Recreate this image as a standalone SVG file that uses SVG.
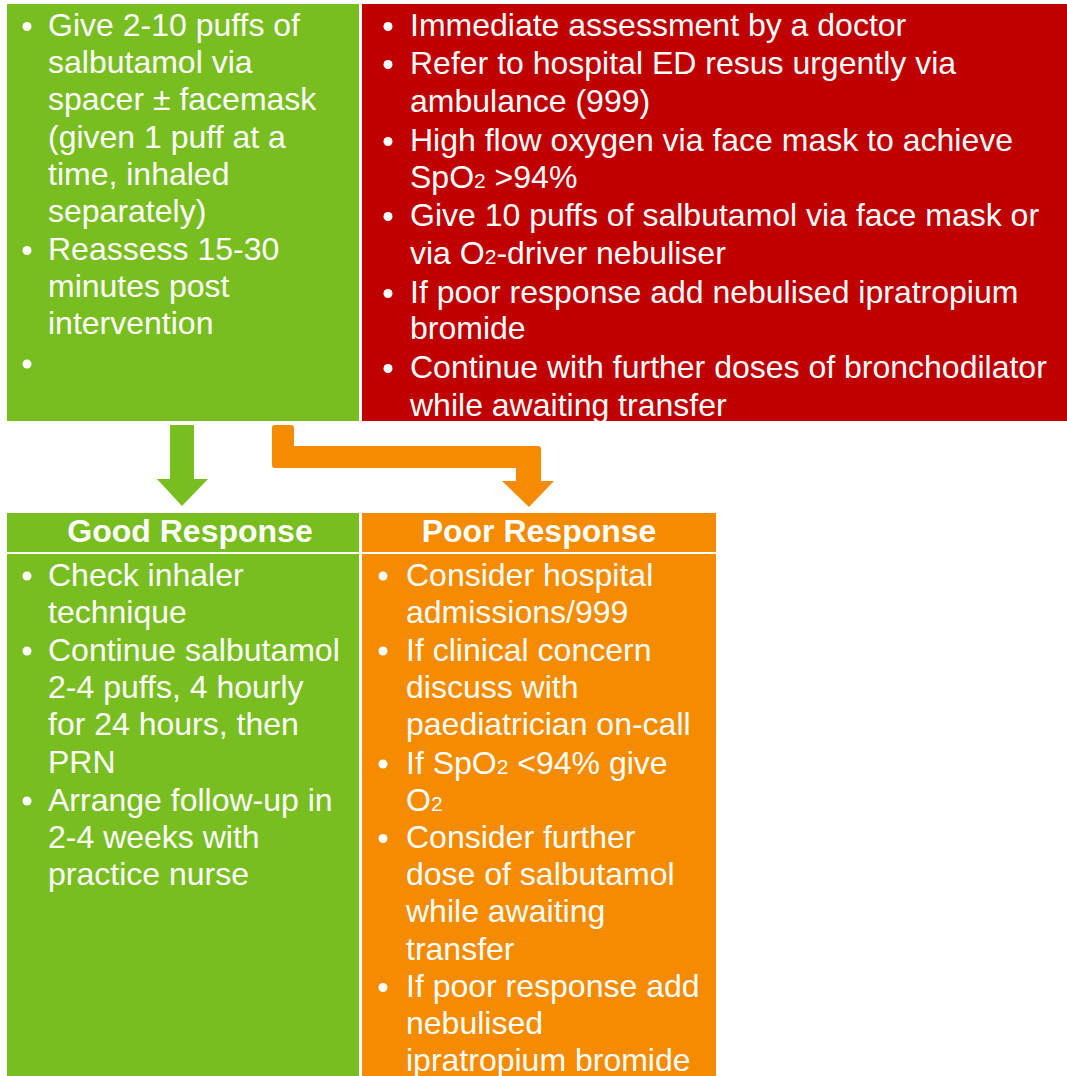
<svg xmlns="http://www.w3.org/2000/svg" width="1067" height="1076" viewBox="0 0 1067 1076">
<style>
.t{font-family:"Liberation Sans",Arial,sans-serif;font-size:32px;fill:#fff}
.h{font-family:"Liberation Sans",Arial,sans-serif;font-size:32px;font-weight:bold;fill:#fff;text-anchor:middle}
.s{font-size:21px}
.b{fill:#fff}
.green{fill:#78BE20}
.red{fill:#C00000}
.orange{fill:#F58B00}
</style>
<rect width="1067" height="1076" fill="#fff"/>
<g id="node-initial">
<rect class="green" x="7" y="4" width="352" height="417"/>
<circle class="b" cx="27" cy="26.5" r="4.5"/>
<text class="t" x="48" y="36">Give 2-10 puffs of</text>
<text class="t" x="48" y="73">salbutamol via</text>
<text class="t" x="48" y="110">spacer ± facemask</text>
<text class="t" x="48" y="148">(given 1 puff at a</text>
<text class="t" x="48" y="185">time, inhaled</text>
<text class="t" x="48" y="222">separately)</text>
<circle class="b" cx="27" cy="250.5" r="4.5"/>
<text class="t" x="48" y="260">Reassess 15-30</text>
<text class="t" x="48" y="297">minutes post</text>
<text class="t" x="48" y="334">intervention</text>
<circle class="b" cx="27" cy="364" r="4.5"/>
</g>
<g id="node-severe">
<rect class="red" x="362" y="4" width="705" height="417"/>
<circle class="b" cx="388" cy="26.5" r="4.5"/>
<text class="t" x="410" y="36">Immediate assessment by a doctor</text>
<circle class="b" cx="388" cy="64.5" r="4.5"/>
<text class="t" x="410" y="74">Refer to hospital ED resus urgently via</text>
<text class="t" x="410" y="112">ambulance (999)</text>
<circle class="b" cx="388" cy="141.5" r="4.5"/>
<text class="t" x="410" y="151">High flow oxygen via face mask to achieve</text>
<text class="t" x="410" y="188">SpO<tspan class="s">2</tspan> &gt;94%</text>
<circle class="b" cx="388" cy="216.5" r="4.5"/>
<text class="t" x="410" y="226">Give 10 puffs of salbutamol via face mask or</text>
<text class="t" x="410" y="264">via O<tspan class="s">2</tspan>-driver nebuliser</text>
<circle class="b" cx="388" cy="293.5" r="4.5"/>
<text class="t" x="410" y="303">If poor response add nebulised ipratropium</text>
<text class="t" x="410" y="339">bromide</text>
<circle class="b" cx="388" cy="368.5" r="4.5"/>
<text class="t" x="410" y="378">Continue with further doses of bronchodilator</text>
<text class="t" x="410" y="416">while awaiting transfer</text>
</g>
<g id="connectors">
<path class="green" d="M170 425 H194 V479 H208 L182 506 L157 479 H170 Z"/>
<path class="orange" d="M275 425 H291 Q294 425 294 428 V446 H538 Q541 446 541 449 V481 H554 L529 507 L502 481 H516 V468 H275 Q272 468 272 465 V428 Q272 425 275 425 Z"/>
</g>
<g id="node-good">
<rect class="green" x="7" y="513" width="352" height="39"/>
<text class="h" x="190" y="542">Good Response</text>
<rect class="green" x="7" y="554" width="352" height="522"/>
<circle class="b" cx="27" cy="576" r="4.5"/>
<text class="t" x="48" y="586">Check inhaler</text>
<text class="t" x="48" y="623">technique</text>
<circle class="b" cx="27" cy="651" r="4.5"/>
<text class="t" x="48" y="661">Continue salbutamol</text>
<text class="t" x="48" y="698">2-4 puffs, 4 hourly</text>
<text class="t" x="48" y="735">for 24 hours, then</text>
<text class="t" x="48" y="773">PRN</text>
<circle class="b" cx="27" cy="801" r="4.5"/>
<text class="t" x="48" y="811">Arrange follow-up in</text>
<text class="t" x="48" y="848">2-4 weeks with</text>
<text class="t" x="48" y="885">practice nurse</text>
</g>
<g id="node-poor">
<rect class="orange" x="362" y="513" width="354" height="39"/>
<text class="h" x="539" y="542">Poor Response</text>
<rect class="orange" x="362" y="554" width="354" height="522"/>
<circle class="b" cx="383" cy="576" r="4.5"/>
<text class="t" x="406" y="586">Consider hospital</text>
<text class="t" x="406" y="623">admissions/999</text>
<circle class="b" cx="383" cy="651" r="4.5"/>
<text class="t" x="406" y="661">If clinical concern</text>
<text class="t" x="406" y="698">discuss with</text>
<text class="t" x="406" y="735">paediatrician on-call</text>
<circle class="b" cx="383" cy="764" r="4.5"/>
<text class="t" x="406" y="774">If SpO<tspan class="s">2</tspan> &lt;94% give</text>
<text class="t" x="406" y="811">O<tspan class="s">2</tspan></text>
<circle class="b" cx="383" cy="838.5" r="4.5"/>
<text class="t" x="406" y="848">Consider further</text>
<text class="t" x="406" y="885">dose of salbutamol</text>
<text class="t" x="406" y="922">while awaiting</text>
<text class="t" x="406" y="960">transfer</text>
<circle class="b" cx="383" cy="987.5" r="4.5"/>
<text class="t" x="406" y="997">If poor response add</text>
<text class="t" x="406" y="1034">nebulised</text>
<text class="t" x="406" y="1071">ipratropium bromide</text>
</g>
</svg>
